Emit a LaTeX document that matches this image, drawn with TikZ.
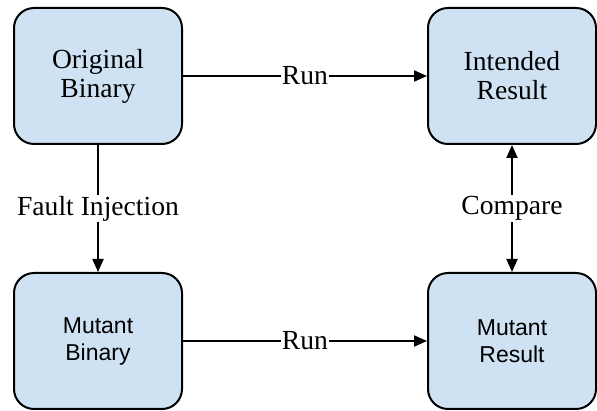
\documentclass[tikz,border=0pt]{standalone}
\usepackage{fontspec}
\setmainfont{Liberation Serif}
\setsansfont{Liberation Sans}
\usetikzlibrary{arrows.meta}
\definecolor{boxfill}{HTML}{CFE2F3}
\tikzset{
  block/.style={draw=black, line width=2pt, fill=boxfill, rounded corners=20pt,
    minimum width=168pt, minimum height=136pt, align=center, inner sep=0pt},
  serifbox/.style={block, font=\fontsize{27.6}{29}\selectfont\rmfamily},
  sansbox/.style={block, font=\fontsize{23}{27}\selectfont\sffamily},
  link/.style={line width=2pt, -{Triangle[length=13pt,width=11pt]}},
  bothlink/.style={line width=2pt, {Triangle[length=13pt,width=11pt]}-{Triangle[length=13pt,width=11pt]}},
  tag/.style={fill=white, inner sep=1pt, font=\fontsize{27.6}{29}\selectfont\rmfamily}
}
\begin{document}
\begin{tikzpicture}[x=1pt,y=-1pt]
  \useasboundingbox (0,0) rectangle (597,411);
  \node[serifbox] (orig) at (98,76) {Original\\Binary};
  \node[serifbox] (intended) at (512,76) {Intended\\Result};
  \node[sansbox] (mutbin) at (98,341) {Mutant\\Binary};
  \node[sansbox] (mutres) at (512,341) {Mutant\\Result};
  \draw[link] (orig) -- node[tag] {Run} (intended);
  \draw[link] (mutbin) -- node[tag] {Run} (mutres);
  \draw[link] (orig) -- node[tag] {Fault Injection} (mutbin);
  \draw[bothlink] (intended) -- node[tag] {Compare} (mutres);
\end{tikzpicture}
\end{document}
